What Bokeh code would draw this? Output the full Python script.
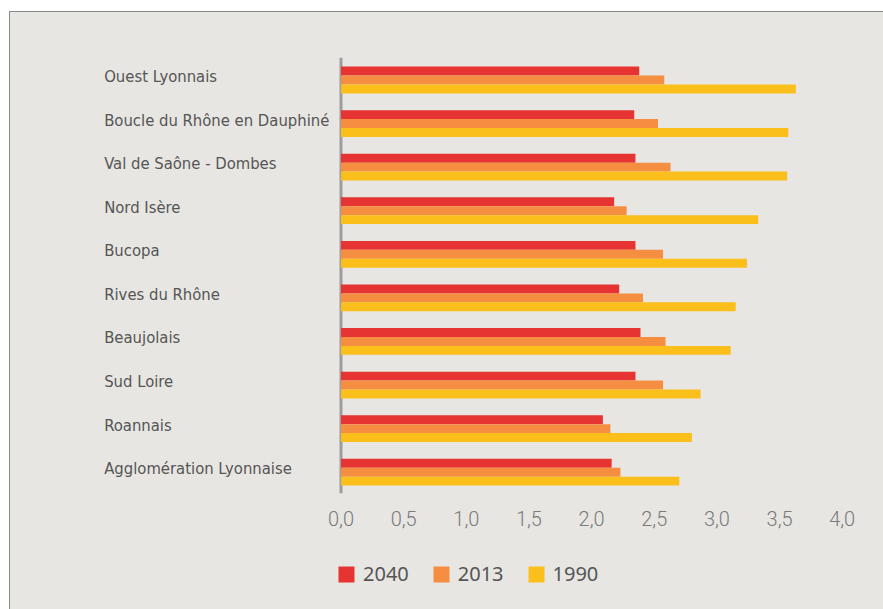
from bokeh.plotting import figure
from bokeh.layouts import column
from bokeh.models import (ColumnDataSource, Range1d, FixedTicker, Span, Legend, LegendItem)
from bokeh.transform import dodge
from bokeh.core.properties import value
from bokeh.embed import file_html
from bokeh.resources import INLINE

# ---------------- data ----------------
categories = ["Agglomération Lyonnaise", "Roannais", "Sud Loire", "Beaujolais",
              "Rives du Rhône", "Bucopa", "Nord Isère", "Val de Saône - Dombes",
              "Boucle du Rhône en Dauphiné", "Ouest Lyonnais"]
v2040 = [2.16, 2.09, 2.35, 2.39, 2.22, 2.35, 2.18, 2.35, 2.34, 2.38]
v2013 = [2.23, 2.15, 2.57, 2.59, 2.41, 2.57, 2.28, 2.63, 2.53, 2.58]
v1990 = [2.70, 2.80, 2.87, 3.11, 3.15, 3.24, 3.33, 3.56, 3.57, 3.63]
series = ["2040", "2013", "1990"]
tick_values = [0.0, 0.5, 1.0, 1.5, 2.0, 2.5, 3.0, 3.5, 4.0]
tick_labels = ["0,0", "0,5", "1,0", "1,5", "2,0", "2,5", "3,0", "3,5", "4,0"]

# ---------------- style ----------------
BG = "#e7e6e2"
COLORS = ["#e53431", "#f68e42", "#fbbf1c"]
BAR_H = 0.205
LABEL_X = -1.89
LABEL_LIFT = 0.08
W = 873
H_MAIN, H_LEG = 536, 61

pos = list(range(len(categories)))
src = ColumnDataSource(dict(y=pos, v2040=v2040, v2013=v2013, v1990=v1990))

p = figure(width=W, height=H_MAIN, x_range=Range1d(-2.6377, 4.3296),
           y_range=Range1d(-0.489, 9.516),
           output_backend="svg", toolbar_location=None, y_axis_location=None,
           min_border_left=0, min_border_right=0, min_border_top=45, min_border_bottom=55)
p.background_fill_color = BG
p.border_fill_color = BG
p.outline_line_color = None
p.grid.visible = False

for name, off, col in zip(["v2040", "v2013", "v1990"], [BAR_H, 0.0, -BAR_H], COLORS):
    p.hbar(y=dodge("y", off, range=p.y_range), right=name, left=0,
           height=BAR_H, source=src, fill_color=col, line_color=None)

p.add_layout(Span(location=0, dimension="height", line_color="#9d9d9d", line_width=3,
                  level="underlay"))

p.text(x=[LABEL_X] * len(categories), y=[i + LABEL_LIFT for i in pos], text=categories,
       text_font=value("DejaVu Sans Condensed"), text_font_size="16.5px",
       text_color="#555555", text_baseline="middle", text_align="left")

ax = p.xaxis[0]
ax.ticker = FixedTicker(ticks=tick_values)
ax.major_label_overrides = {t: l for t, l in zip(tick_values, tick_labels)}
ax.axis_line_color = None
ax.major_tick_line_color = None
ax.minor_tick_line_color = None
ax.major_tick_out = 0
ax.major_label_standoff = 17
ax.major_label_text_font = "Roboto Light"
ax.major_label_text_font_size = "20px"
ax.major_label_text_color = "#7a7a7a"

# legend strip (separate small figure, same background); swatch glyphs sit off-range
pl = figure(width=W, height=H_LEG, x_range=Range1d(0, 1), y_range=Range1d(0, 1),
            output_backend="svg", toolbar_location=None,
            x_axis_location=None, y_axis_location=None, min_border=0)
pl.background_fill_color = BG
pl.border_fill_color = BG
pl.outline_line_color = None
pl.grid.visible = False
swatches = [pl.rect(x=[-5], y=[-5], width=1, height=1, fill_color=c, line_color=None)
            for c in COLORS]
legend = Legend(items=[LegendItem(label=s, renderers=[r]) for s, r in zip(series, swatches)],
                orientation="horizontal", location=(326, 22),
                glyph_width=20, glyph_height=20, label_standoff=7, spacing=22,
                padding=0, margin=0, background_fill_alpha=0, border_line_color=None,
                label_text_font="Noto Sans", label_text_font_size="20px",
                label_text_color="#555555")
pl.add_layout(legend)

layout = column(p, pl, spacing=0)
layout.styles = {"margin-left": "9px", "margin-top": "11px",
                 "border-left": "1px solid #8a8a8a", "border-top": "1px solid #8a8a8a",
                 "background-color": BG}

open("out.html", "w").write(file_html(layout, INLINE))
